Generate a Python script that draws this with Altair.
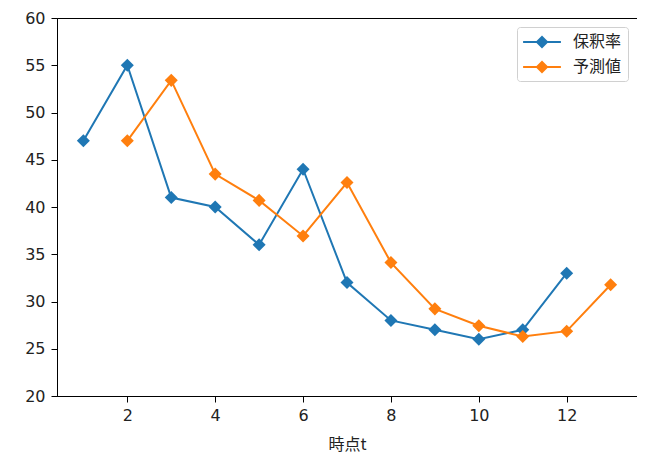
import altair as alt
import pandas as pd

t_actual = [1, 2, 3, 4, 5, 6, 7, 8, 9, 10, 11, 12]
actual = [47, 55, 41, 40, 36, 44, 32, 28, 27, 26, 27, 33]
t_pred = [2, 3, 4, 5, 6, 7, 8, 9, 10, 11, 12, 13]
pred = [47.0, 53.4, 43.48, 40.7, 36.94, 42.59, 34.12, 29.22, 27.44, 26.29, 26.86, 31.77]
series_names = ["保釈率", "予測値"]
colors = ["#1f77b4", "#ff7f0e"]

df = pd.concat([
    pd.DataFrame({"t": t_actual, "v": actual, "s": series_names[0]}),
    pd.DataFrame({"t": t_pred, "v": pred, "s": series_names[1]}),
])

font = "DejaVu Sans, Noto Sans CJK JP"
cjk = "Noto Sans CJK JP"
# line segment with a diamond on it, for the legend
legend_symbol = "M-2.1,-0.11L2.1,-0.11L2.1,0.11L-2.1,0.11Z M0,-0.72L0.72,0L0,0.72L-0.72,0Z"

color = alt.Color(
    "s:N",
    scale=alt.Scale(domain=series_names, range=colors),
    legend=alt.Legend(
        title=None,
        orient="top-right",
        offset=9,
        symbolType=legend_symbol,
        symbolSize=324,
        symbolStrokeWidth=0,
        symbolOpacity=1,
        symbolOffset=10,
        labelFont=cjk,
        labelFontSize=16,
        labelColor="#222",
        rowPadding=8,
        padding=6,
        strokeColor="#d0d0d0",
        fillColor="white",
        cornerRadius=3,
        labelOffset=22,
    ),
)

x = alt.X(
    "t:Q",
    scale=alt.Scale(domain=[0.4, 13.6], nice=False, zero=False),
    axis=alt.Axis(values=[2, 4, 6, 8, 10, 12], title="時点t", grid=False,
                  tickSize=6, labelPadding=5, titlePadding=13),
)
y = alt.Y(
    "v:Q",
    scale=alt.Scale(domain=[20, 60], nice=False, zero=False),
    axis=alt.Axis(values=list(range(20, 61, 5)), title=None, grid=False,
                  tickSize=6, labelPadding=6),
)

base = alt.Chart(df)
lines = base.mark_line(strokeWidth=2).encode(x=x, y=y, color=color, detail="s:N")
points = base.mark_point(shape="diamond", filled=True, size=170, opacity=1).encode(
    x=x, y=y, color=alt.Color("s:N", scale=alt.Scale(domain=series_names, range=colors), legend=None)
)

chart = (lines + points).properties(
    width=580, height=378,
    autosize=alt.AutoSizeParams(type="none"),
    padding={"left": 49, "top": 10, "right": 0, "bottom": 60},
).configure_view(stroke="black", strokeWidth=1).configure_axis(
    domainColor="black", tickColor="black", labelColor="#222", titleColor="#222",
    labelFont=font, titleFont=cjk, labelFontSize=16, titleFontSize=16,
    titleFontWeight="normal", domainWidth=1,
)

chart.save("out.html", embed_options={"renderer": "svg", "actions": False})
